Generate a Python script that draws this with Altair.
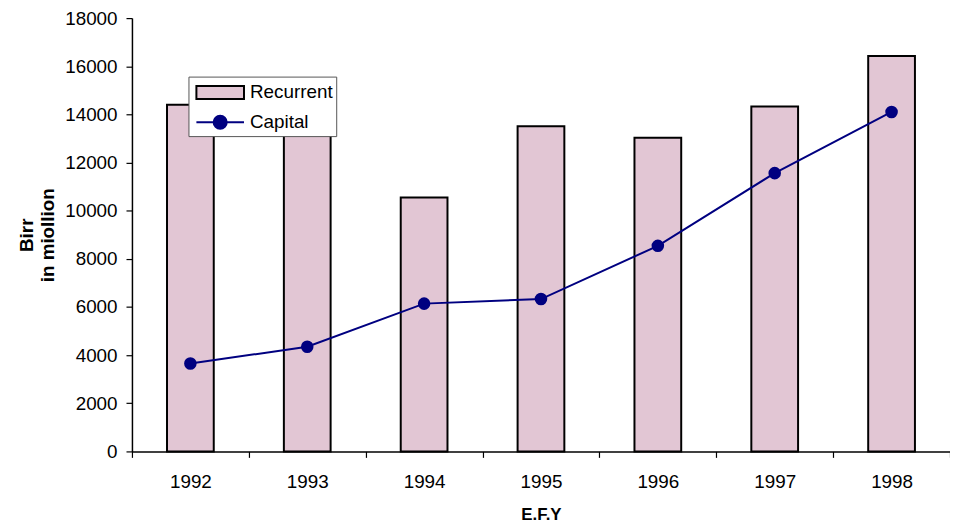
import altair as alt
import pandas as pd

years = ["1992", "1993", "1994", "1995", "1996", "1997", "1998"]
recurrent = [14400, 13800, 10550, 13510, 13030, 14330, 16430]
capital = [3650, 4350, 6140, 6330, 8540, 11560, 14100]
series_names = ["Recurrent", "Capital"]
y_ticks = [0, 2000, 4000, 6000, 8000, 10000, 12000, 14000, 16000, 18000]

FONT = "Liberation Sans"
PINK = "#e2c6d4"
NAVY = "#000080"

bar_df = pd.DataFrame({"year": years, "value": recurrent})
cap_df = pd.DataFrame({"year": years, "value": capital, "series": ["Capital"] * len(years)})

x_enc = alt.X(
    "year:N",
    title="E.F.Y",
    sort=years,
    scale=alt.Scale(paddingInner=0, paddingOuter=0),
    axis=alt.Axis(
        labelAngle=0,
        tickBand="extent",
        tickSize=6,
        labelPadding=15,
        titlePadding=16,
        labelFontSize=19,
        titleFontSize=17,
        titleFontWeight="bold",
    ),
)

y_title = ["Birr", "in miollion"]
y_scale = alt.Scale(domain=[0, 18000], nice=False, zero=True)
y_axis = alt.Axis(
    values=y_ticks,
    format="d",
    grid=False,
    tickSize=6,
    labelPadding=9,
    labelFontSize=19,
    titleFontSize=19,
    titleFontWeight="bold",
    titleLineHeight=21,
    titlePadding=7,
)

bars = alt.Chart(bar_df).mark_bar(
    width=alt.RelativeBandSize(0.4), fill=PINK, stroke="black", strokeWidth=2
).encode(
    x=x_enc,
    y=alt.Y("value:Q", title=y_title, scale=y_scale, axis=y_axis),
)

line = alt.Chart(cap_df).mark_line(color=NAVY, strokeWidth=2).encode(
    x=x_enc,
    y=alt.Y("value:Q", title=y_title, scale=y_scale, axis=y_axis),
)

points = alt.Chart(cap_df).mark_point(
    filled=True, size=160, color=NAVY, opacity=1
).encode(
    x=x_enc,
    y=alt.Y("value:Q", title=y_title, scale=y_scale, axis=y_axis),
)

rect_path = "M-2,-0.54H2V0.54H-2Z"
circ_path = "M-2,0H2M-0.55,0A0.55,0.55 0 1,0 0.55,0A0.55,0.55 0 1,0 -0.55,0Z"

leg = alt.Legend(
    title=None,
    orient="none",
    legendX=57,
    legendY=59,
    labelFontSize=19,
    labelFont=FONT,
    labelColor="black",
    symbolSize=576,
    symbolStrokeWidth=2,
    symbolOpacity=1,
    symbolOffset=16,
    labelOffset=17,
    padding=3,
    rowPadding=6,
    fillColor="white",
    strokeColor="#555555",
)

legend_layer = alt.Chart(cap_df).mark_point(filled=True, opacity=0).encode(
    x=x_enc,
    y=alt.Y("value:Q", title=y_title, scale=y_scale, axis=y_axis),
    color=alt.Color("series:N", scale=alt.Scale(domain=series_names, range=[PINK, NAVY]), legend=leg),
    stroke=alt.Stroke("series:N", scale=alt.Scale(domain=series_names, range=["black", NAVY]), legend=leg),
    shape=alt.Shape("series:N", scale=alt.Scale(domain=series_names, range=[rect_path, circ_path]), legend=leg),
)

chart = (
    alt.layer(bars, line, points, legend_layer)
    .properties(
        width=825,
        height=437,
        autosize=alt.AutoSizeParams(type="none"),
        padding={"left": 125, "top": 8, "right": 0, "bottom": 70},
    )
    .configure_view(stroke=None)
    .configure_axis(
        labelFont=FONT,
        titleFont=FONT,
        labelColor="black",
        titleColor="black",
        domainColor="black",
        tickColor="black",
        domainWidth=1.5,
        tickWidth=1.2,
    )
)

chart.save("out.html", embed_options={"renderer": "svg", "actions": False})
